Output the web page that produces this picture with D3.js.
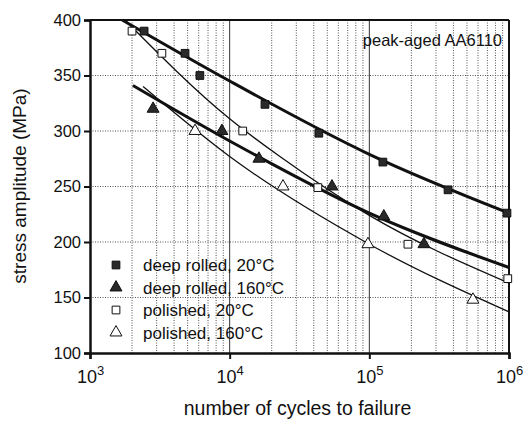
<!DOCTYPE html>
<html lang="en">
<head>
<meta charset="utf-8">
<title>S-N curves AA6110</title>
<script src="https://d3js.org/d3.v7.min.js"></script>
<style>
  body { margin: 0; background: #fff; }
  text { font-family: "Liberation Sans", Arial, sans-serif; fill: #111; }
</style>
</head>
<body>
<svg id="chart" width="525" height="421"></svg>
<script>
// measured points (cycles to failure, stress amplitude in MPa)
let drRT_N = [2440, 4790, 6120, 17900, 43500, 125000, 366000, 967000];
let drRT_S = [390, 370, 350, 324, 298, 272, 247, 226];
let dr160_N = [2830, 8800, 16200, 54000, 127000, 246000];
let dr160_S = [320, 300, 275, 250, 223, 198];
let polRT_N = [2000, 3270, 12400, 42800, 189000, 980000];
let polRT_S = [390, 370, 300, 249, 198, 167];
let pol160_N = [5650, 24100, 97700, 552000];
let pol160_S = [300, 250, 198, 148];

// fitted curves
let drRT_fitN = [1700, 10000, 100000, 1000000];
let drRT_fitS = [400, 345, 279, 226];
let dr160_fitN = [2030, 10000, 100000, 1000000];
let dr160_fitS = [341, 291, 226, 177];
let polRT_fitN = [1780, 10000, 22900, 100000, 1000000];
let polRT_fitS = [400, 311, 277, 224, 163];
let pol160_fitN = [2400, 10000, 100000, 1000000];
let pol160_fitS = [340, 277, 198, 137];

let yTicks = [100, 150, 200, 250, 300, 350, 400];
let xTicks = [1e3, 1e4, 1e5, 1e6];
let legendLabels = ['deep rolled, 20°C', 'deep rolled, 160°C', 'polished, 20°C', 'polished, 160°C'];
let title = 'peak-aged AA6110';

let svg = d3.select('#chart');
let pLeft = 90, pRight = 509, pTop = 20, pBottom = 353;

let x = d3.scaleLog().domain([1e3, 1e6]).range([pLeft, pRight]);
let y = d3.scaleLinear().domain([100, 400]).range([pBottom, pTop]);

function zip(a, b){ return a.map((v, i) => ({n: v, s: b[i]})); }

// grid
let minor = [];
[1e3, 1e4, 1e5].forEach(d => { for(let k = 2; k <= 9; k++) minor.push(d * k); });
let grid = svg.append('g');
grid.selectAll('line.vx').data(minor).enter().append('line')
    .attr('x1', d => x(d)).attr('x2', d => x(d))
    .attr('y1', pTop).attr('y2', pBottom)
    .attr('stroke', '#555').attr('stroke-width', 1).attr('stroke-dasharray', '1,1.5');
grid.selectAll('line.dec').data([1e4, 1e5]).enter().append('line')
    .attr('x1', d => x(d)).attr('x2', d => x(d))
    .attr('y1', pTop).attr('y2', pBottom)
    .attr('stroke', '#333').attr('stroke-width', 1);
grid.selectAll('line.hy').data(yTicks.slice(1, -1)).enter().append('line')
    .attr('x1', pLeft).attr('x2', pRight)
    .attr('y1', d => y(d)).attr('y2', d => y(d))
    .attr('stroke', '#555').attr('stroke-width', 1).attr('stroke-dasharray', '1,1.5');

// frame
svg.append('line').attr('x1', pLeft).attr('x2', pRight).attr('y1', pTop).attr('y2', pTop)
    .attr('stroke', '#111').attr('stroke-width', 1.8);
svg.append('line').attr('x1', pRight).attr('x2', pRight).attr('y1', pTop).attr('y2', pBottom)
    .attr('stroke', '#111').attr('stroke-width', 2);

// fitted lines
let line = d3.line().x(d => x(d.n)).y(d => y(d.s)).curve(d3.curveMonotoneX);
let fits = [
    [zip(drRT_fitN, drRT_fitS), 3],
    [zip(dr160_fitN, dr160_fitS), 3],
    [zip(polRT_fitN, polRT_fitS), 1.3],
    [zip(pol160_fitN, pol160_fitS), 1.3]
];
fits.forEach(f => {
    svg.append('path').datum(f[0]).attr('d', line)
        .attr('fill', 'none').attr('stroke', '#111').attr('stroke-width', f[1]);
});

// markers
let sq = d3.symbol().type(d3.symbolSquare).size(60);
let tri = d3.symbol().type(d3.symbolTriangle).size(62);
function marks(data, sym, filled){
    svg.append('g').selectAll('path').data(data).enter().append('path')
        .attr('d', sym)
        .attr('transform', d => `translate(${x(d.n)},${y(d.s)})`)
        .attr('fill', filled ? '#2a2a2a' : '#fff')
        .attr('stroke', '#111').attr('stroke-width', 1);
}
marks(zip(drRT_N, drRT_S), sq, true);
marks(zip(dr160_N, dr160_S), tri, true);
marks(zip(polRT_N, polRT_S), sq, false);
marks(zip(pol160_N, pol160_S), tri, false);

// axes
let yAxis = d3.axisLeft(y).tickValues(yTicks).tickSize(6).tickPadding(3);
let gy = svg.append('g').attr('transform', `translate(${pLeft},0)`).call(yAxis);
gy.select('.domain').attr('stroke-width', 2.5).attr('stroke', '#111');
gy.selectAll('.tick line').attr('stroke-width', 2).attr('stroke', '#111');
gy.selectAll('.tick text').attr('font-size', 16.5).attr('font-family', '"Liberation Sans", Arial, sans-serif').attr('fill', '#111');

let xAxis = d3.axisBottom(x).tickValues(xTicks).tickSize(6).tickFormat('');
let gx = svg.append('g').attr('transform', `translate(0,${pBottom})`).call(xAxis);
gx.select('.domain').attr('stroke-width', 2.5).attr('stroke', '#111');
gx.selectAll('.tick line').attr('stroke-width', 2).attr('stroke', '#111');
gx.selectAll('.tick').append('text')
    .attr('y', 30).attr('text-anchor', 'middle')
    .attr('font-size', 18).attr('fill', '#111')
    .attr('font-family', '"Liberation Sans", Arial, sans-serif')
    .each(function(d){
        let t = d3.select(this);
        t.append('tspan').text('10');
        t.append('tspan').attr('dy', -8).attr('font-size', 13).text(Math.round(Math.log10(d)));
    });

// axis titles
svg.append('text').attr('x', (pLeft + pRight) / 2 - 2).attr('y', 415)
    .attr('text-anchor', 'middle').attr('font-size', 19.5)
    .text('number of cycles to failure');
svg.append('text').attr('transform', 'translate(26,186) rotate(-90)')
    .attr('text-anchor', 'middle').attr('font-size', 19)
    .text('stress amplitude (MPa)');

// title in plot
svg.append('text').attr('x', 502).attr('y', 46).attr('text-anchor', 'end')
    .attr('font-size', 16.5).text(title);

// legend
let legSyms = [[sq, true], [tri, true], [sq, false], [tri, false]];
let leg = svg.append('g');
legendLabels.forEach((lab, i) => {
    let ly = 265 + i * 22.5;
    leg.append('path').attr('d', legSyms[i][0])
        .attr('transform', `translate(116,${ly})`)
        .attr('fill', legSyms[i][1] ? '#2a2a2a' : '#fff')
        .attr('stroke', '#111').attr('stroke-width', 1);
    leg.append('text').attr('x', 143).attr('y', ly + 6)
        .attr('font-size', 17).text(lab);
});
</script>
</body>
</html>
